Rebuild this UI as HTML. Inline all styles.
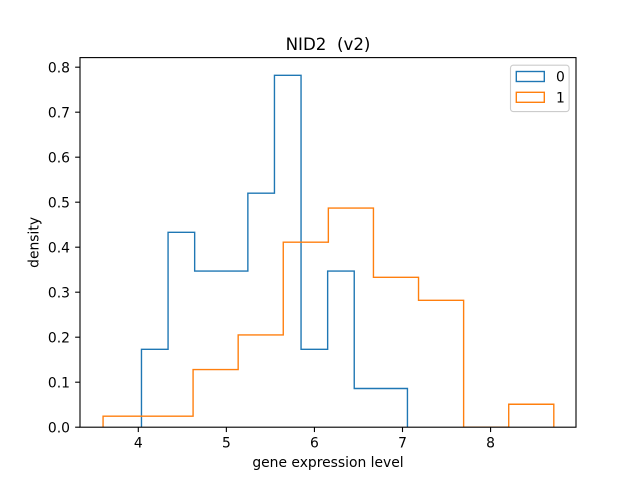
<!DOCTYPE html>
<html>
<head>
<meta charset="utf-8">
<style>
html,body{margin:0;padding:0;background:#fff;}
svg{display:block;}
text{font-family:"DejaVu Sans","Liberation Sans",sans-serif;fill:#000;}
</style>
</head>
<body>
<svg id="chart" width="640" height="480" viewBox="0 0 640 480" xmlns="http://www.w3.org/2000/svg">
<defs><clipPath id="plot-clip"><rect x="80" y="57.6" width="496" height="369.6"/></clipPath></defs>
<rect x="0" y="0" width="640" height="480" fill="#fff"/>
<rect x="80" y="57.6" width="496" height="369.6" fill="#fff"/>
<g id="series" clip-path="url(#plot-clip)"></g>
<g id="xticks"></g>
<g id="yticks"></g>
<rect x="80" y="57.6" width="496" height="369.6" fill="none" stroke="#000" stroke-width="1.11"/>
<text x="328" y="50" text-anchor="middle" xml:space="preserve" style="font-size:16.67px;white-space:pre">NID2  (v2)</text>
<text x="328" y="467" font-size="13.89" text-anchor="middle">gene expression level</text>
<text transform="translate(38.5,242.4) rotate(-90)" font-size="13.89" text-anchor="middle">density</text>
<g>
<rect x="510.5" y="65.2" width="58.6" height="46.4" rx="2.8" fill="#fff" fill-opacity="0.8" stroke="#ccc" stroke-width="1.11"/>
<rect x="516.3" y="71.5" width="28" height="10" fill="none" stroke="#1f77b4" stroke-width="1.39"/>
<text x="556" y="81.5" font-size="13.89">0</text>
<rect x="516.3" y="92.3" width="28" height="10" fill="none" stroke="#ff7f0e" stroke-width="1.39"/>
<text x="556" y="102.3" font-size="13.89">1</text>
</g>
</svg>
<script>
const edges0 = [4.036, 4.338, 4.640, 4.942, 5.244, 5.546, 5.848, 6.150, 6.452, 6.754, 7.056];
const density0 = [0.173, 0.433, 0.347, 0.347, 0.52, 0.782, 0.173, 0.347, 0.086, 0.086];
const edges1 = [3.600, 4.110, 4.622, 5.134, 5.646, 6.158, 6.670, 7.182, 7.694, 8.206, 8.718];
const density1 = [0.0245, 0.0245, 0.128, 0.205, 0.411, 0.487, 0.333, 0.282, 0, 0.051];
const xTickValues = [4, 5, 6, 7, 8];
const yTickValues = [0, 0.1, 0.2, 0.3, 0.4, 0.5, 0.6, 0.7, 0.8];
const yTickLabels = ['0.0', '0.1', '0.2', '0.3', '0.4', '0.5', '0.6', '0.7', '0.8'];

const NS = 'http://www.w3.org/2000/svg';
const plotLeft = 80, plotRight = 576, plotTop = 57.6, plotBottom = 427.2;
const xDomainMin = 3.338, xDomainMax = 8.97, yDomainMax = 0.8213;

function xScale(v) {
  return plotLeft + (v - xDomainMin) / (xDomainMax - xDomainMin) * (plotRight - plotLeft);
}
function yScale(v) {
  return plotBottom - v / yDomainMax * (plotBottom - plotTop);
}
function stepPath(edges, values) {
  let d = 'M' + xScale(edges[0]).toFixed(2) + ' ' + yScale(0).toFixed(2);
  values.forEach(function (v, i) {
    d += 'L' + xScale(edges[i]).toFixed(2) + ' ' + yScale(v).toFixed(2);
    d += 'L' + xScale(edges[i + 1]).toFixed(2) + ' ' + yScale(v).toFixed(2);
  });
  d += 'L' + xScale(edges[edges.length - 1]).toFixed(2) + ' ' + yScale(0).toFixed(2);
  return d;
}
function make(tag, parent) {
  const el = document.createElementNS(NS, tag);
  parent.appendChild(el);
  return el;
}

const seriesGroup = document.getElementById('series');

const path0 = make('path', seriesGroup);


path0.setAttribute('d', stepPath(edges0, density0));
path0.setAttribute('fill', 'none');
path0.setAttribute('stroke', '#1f77b4');
path0.setAttribute('stroke-width', '1.39');
path0.setAttribute('stroke-linejoin', 'miter');

const path1 = make('path', seriesGroup);


path1.setAttribute('d', stepPath(edges1, density1));
path1.setAttribute('fill', 'none');
path1.setAttribute('stroke', '#ff7f0e');
path1.setAttribute('stroke-width', '1.39');
path1.setAttribute('stroke-linejoin', 'miter');

const xTickGroup = document.getElementById('xticks');
xTickValues.forEach(function (v) {
  const x = xScale(v);
  const tick = make('line', xTickGroup);
  
  
  tick.setAttribute('x1', x);
  tick.setAttribute('x2', x);
  tick.setAttribute('y1', plotBottom);
  tick.setAttribute('y2', plotBottom + 4.86);
  tick.setAttribute('stroke', '#000');
  tick.setAttribute('stroke-width', '1.11');
  const label = make('text', xTickGroup);
  
  
  label.setAttribute('x', x);
  label.setAttribute('y', plotBottom + 20.5);
  label.setAttribute('font-size', '13.89');
  label.setAttribute('text-anchor', 'middle');
  label.textContent = String(v);
});

const yTickGroup = document.getElementById('yticks');
yTickValues.forEach(function (v, i) {
  const y = yScale(v);
  const tick = make('line', yTickGroup);
  
  
  tick.setAttribute('x1', plotLeft - 4.86);
  tick.setAttribute('x2', plotLeft);
  tick.setAttribute('y1', y);
  tick.setAttribute('y2', y);
  tick.setAttribute('stroke', '#000');
  tick.setAttribute('stroke-width', '1.11');
  const label = make('text', yTickGroup);
  
  
  label.setAttribute('x', plotLeft - 10);
  label.setAttribute('y', y + 5.2);
  label.setAttribute('font-size', '13.89');
  label.setAttribute('text-anchor', 'end');
  label.textContent = yTickLabels[i];
});
</script>
</body>
</html>
